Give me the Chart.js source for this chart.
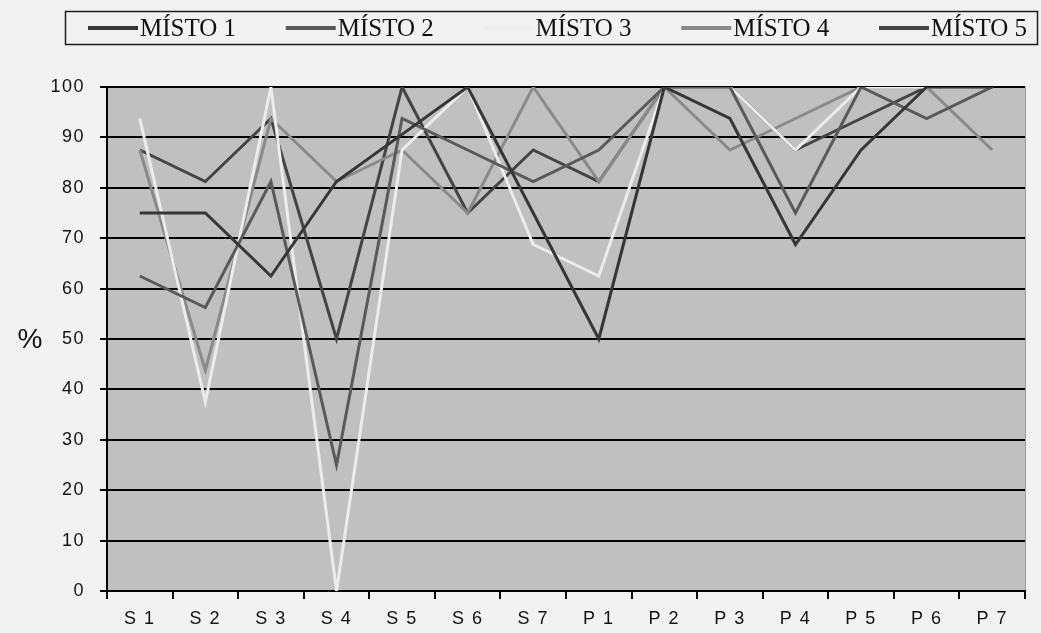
<!DOCTYPE html>
<html>
<head>
<meta charset="utf-8">
<script src="https://cdn.jsdelivr.net/npm/chart.js@4.4.1/dist/chart.umd.min.js"></script>
<style>
  html, body { margin: 0; padding: 0; background: #f2f2f2; }
  #wrap { width: 1041px; height: 633px; position: relative; }
  canvas { display: block; }
</style>
</head>
<body>
<div id="wrap"><canvas id="chart" width="1041" height="633"></canvas></div>
<script>
// Categories (school years S1–S7, P1–P7) and the share in % for each place
const categories = ['S1', 'S2', 'S3', 'S4', 'S5', 'S6', 'S7', 'P1', 'P2', 'P3', 'P4', 'P5', 'P6', 'P7'];
const seriesNames = ['MÍSTO 1', 'MÍSTO 2', 'MÍSTO 3', 'MÍSTO 4', 'MÍSTO 5'];
const misto1 = [75, 75, 62.5, 81.25, 90.6, 100, 75, 50, 100, 93.75, 68.75, 87.5, 100, 100];
const misto2 = [62.5, 56.25, 81.25, 25, 93.75, 87.5, 81.25, 87.5, 100, 100, 75, 100, 93.75, 100];
const misto3 = [93.75, 37.5, 100, 0, 87.5, 100, 68.75, 62.5, 100, 100, 87.5, 100, 100, 100];
const misto4 = [87.5, 43.75, 93.75, 81.25, 87.5, 75, 100, 81.25, 100, 87.5, 93.75, 100, 100, 87.5];
const misto5 = [87.5, 81.25, 93.75, 50, 100, 75, 87.5, 81.25, 100, 100, 87.5, 93.75, 100, 100];
const yTickValues = [0, 10, 20, 30, 40, 50, 60, 70, 80, 90, 100];

const lineColors = ['#363636', '#5a5a5a', '#ececec', '#8a8a8a', '#444444'];
const seriesValues = [misto1, misto2, misto3, misto4, misto5];

// Grey plot area and page background
const backdrop = {
  id: 'backdrop',
  beforeDraw(chart) {
    const { ctx, chartArea: a } = chart;
    ctx.save();
    ctx.fillStyle = '#f2f2f2';
    ctx.fillRect(0, 0, chart.width, chart.height);
    ctx.fillStyle = '#c0c0c0';
    ctx.fillRect(a.left, a.top, a.right - a.left, a.bottom - a.top);
    ctx.strokeStyle = '#9a9a9a';
    ctx.lineWidth = 1;
    ctx.beginPath();
    ctx.moveTo(a.right + 0.5, a.top);
    ctx.lineTo(a.right + 0.5, a.bottom);
    ctx.stroke();
    ctx.restore();
    ctx.letterSpacing = '1.5px';
  }
};

// Framed legend row across the top and the "%" axis caption
const framedLegend = {
  id: 'framedLegend',
  afterDraw(chart) {
    const { ctx } = chart;
    ctx.save();
    ctx.letterSpacing = '0px';
    ctx.strokeStyle = '#1e1e1e';
    ctx.lineWidth = 1.5;
    ctx.strokeRect(65.5, 11.5, 972, 33);
    ctx.font = '25px "Liberation Serif", "Times New Roman", serif';
    ctx.textBaseline = 'middle';
    ctx.textAlign = 'left';
    chart.data.datasets.forEach((ds, i) => {
      const x = 88 + i * 197.75;
      const y = 28;
      ctx.strokeStyle = ds.borderColor;
      ctx.lineWidth = 4;
      ctx.beginPath();
      ctx.moveTo(x, y);
      ctx.lineTo(x + 50, y);
      ctx.stroke();
      ctx.fillStyle = '#111';
      ctx.fillText(ds.label, x + 52, y + 1);
    });
    ctx.font = '28px "Liberation Sans", Arial, sans-serif';
    ctx.textAlign = 'center';
    ctx.fillStyle = '#111';
    ctx.fillText('%', 30, 340);
    ctx.restore();
  }
};

new Chart(document.getElementById('chart'), {
  type: 'line',
  data: {
    labels: categories,
    datasets: seriesValues.map((vals, i) => ({
      label: seriesNames[i],
      data: vals,
      borderColor: lineColors[i],
      backgroundColor: lineColors[i],
      borderWidth: 3,
      pointRadius: 0,
      pointHoverRadius: 0,
      tension: 0,
      fill: false
    }))
  },
  options: {
    responsive: false,
    animation: false,
    devicePixelRatio: 1,
    layout: { padding: { top: 87, right: 16, left: 0, bottom: 0 } },
    plugins: {
      legend: { display: false },
      tooltip: { enabled: false }
    },
    scales: {
      x: {
        type: 'category',
        offset: true,
        grid: { offset: true, drawOnChartArea: false, drawTicks: true, tickLength: 8, color: '#000', lineWidth: 2 },
        border: { color: '#000', width: 2 },
        ticks: {
          color: '#111',
          padding: 9,
          font: { family: '"Liberation Sans", Arial, sans-serif', size: 18 },
          maxRotation: 0,
          autoSkip: false,
          callback: (v, i) => categories[i].split('').join(' ')
        },
        afterFit: s => { s.height = 42; }
      },
      y: {
        min: 0,
        max: 100,
        afterBuildTicks: s => { s.ticks = yTickValues.map(v => ({ value: v })); },
        grid: { color: '#000', lineWidth: 2, drawTicks: true, tickLength: 7 },
        border: { color: '#000', width: 2 },
        ticks: {
          color: '#111',
          padding: 15,
          font: { family: '"Liberation Sans", Arial, sans-serif', size: 18 }
        },
        afterFit: s => { s.width = 107; }
      }
    }
  },
  plugins: [backdrop, framedLegend]
});
</script>
</body>
</html>
